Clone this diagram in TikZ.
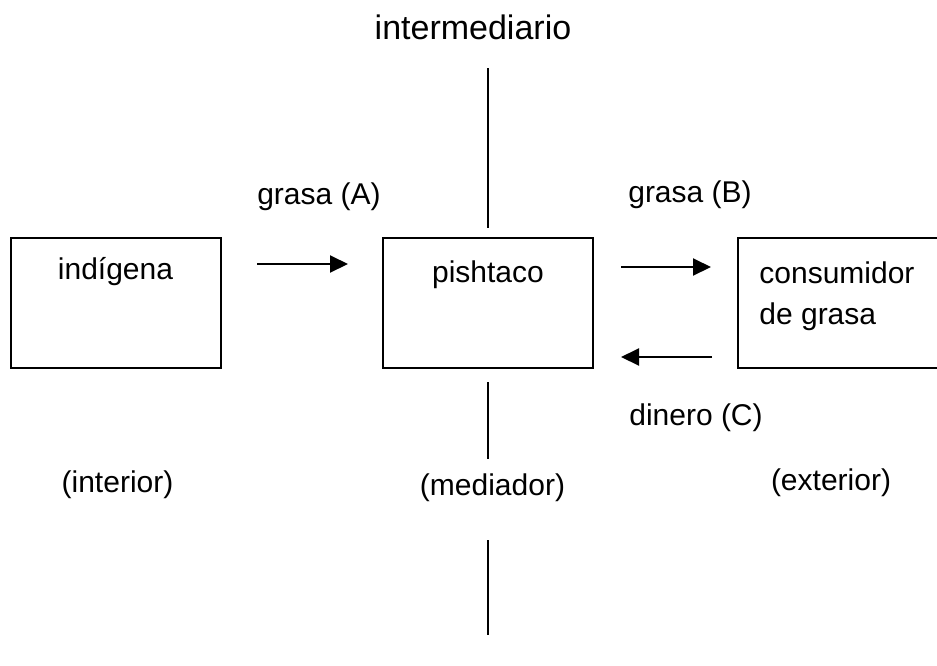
\documentclass[tikz,border=0pt]{standalone}
\usepackage{fontspec}
\setmainfont{Liberation Sans}
\usetikzlibrary{arrows.meta}
\begin{document}
\begin{tikzpicture}[x=0.5pt,y=-0.5pt,
  every node/.style={font=\fontsize{15}{20.5}\selectfont, inner sep=0pt},
  boxstyle/.style={draw, line width=1.1pt, minimum width=105pt, minimum height=65pt},
  flow/.style={line width=1pt, -{Triangle[length=9pt,width=8.5pt]}},
  divider/.style={line width=1pt}]
\useasboundingbox (0,0) rectangle (937,665);
\begin{scope}
\clip (0,0) rectangle (937,665);
% boxes
\node[boxstyle] (indbox) at (116,303) {};
\node[boxstyle] (pishbox) at (488,303) {};
\node[boxstyle] (consbox) at (843,303) {};
\end{scope}
% box texts
\node (ind) at (115.5,272) {indígena};
\node (pish) at (488,275) {pishtaco};
\node[align=left, anchor=west] (cons) at (759,296) {consumidor\\de grasa};
% arrow end points
\coordinate (a1) at (257,264);
\coordinate (a2) at (348,264);
\coordinate (b1) at (621,267);
\coordinate (b2) at (711,267);
\coordinate (c1) at (712,357);
\coordinate (c2) at (621,357);
\draw[flow] (a1) -- (a2);
\draw[flow] (b1) -- (b2);
\draw[flow] (c1) -- (c2);
% labels
\node (top) at (473,27) {\fontsize{17}{20}\selectfont intermediario};
\node (la) at (319,197) {grasa (A)};
\node (lb) at (690,195) {grasa (B)};
\node (lc) at (696,418) {dinero (C)};
\node (inter) at (117.5,485) {(interior)};
\node (med) at (492.5,488) {(mediador)};
\node (ext) at (831,483) {(exterior)};
% divider lines
\coordinate (v1) at (488,68);
\coordinate (v2) at (488,228);
\coordinate (v3) at (488,382);
\coordinate (v4) at (488,459);
\coordinate (v5) at (488,540);
\coordinate (v6) at (488,635);
\draw[divider] (v1) -- (v2);
\draw[divider] (v3) -- (v4);
\draw[divider] (v5) -- (v6);
\end{tikzpicture}
\end{document}
